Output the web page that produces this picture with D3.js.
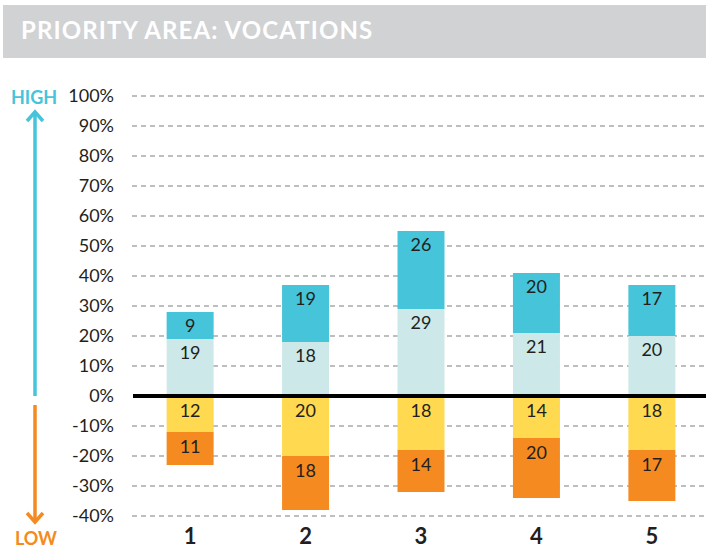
<!DOCTYPE html>
<html>
<head>
<meta charset="utf-8">
<script src="https://cdn.jsdelivr.net/npm/d3@7"></script>
<style>
  body { margin:0; background:#fff; }
  text { font-family: Lato, "Open Sans", sans-serif; }
</style>
</head>
<body>
<svg id="chart" width="706" height="550"></svg>
<script>
// data
var categories=["1","2","3","4","5"];
var highLight=[19,18,29,21,20];   // light blue, bottom of positive stack
var highDark=[9,19,26,20,17];     // dark blue, top of positive stack
var lowLight=[12,20,18,14,18];    // yellow, just under zero
var lowDark=[11,18,14,20,17];     // orange, bottom
var yTicks=[100,90,80,70,60,50,40,30,20,10,0,-10,-20,-30,-40];

var colors={hl:"#cde8e9",hd:"#46c4d9",ll:"#ffd94f",ld:"#f58a20"};

var svg=d3.select("#chart");

// title bar
svg.append("rect")
    .attr("x",3).attr("y",5)
    .attr("width",703).attr("height",53)
    .attr("fill","#d1d2d4");
svg.append("text")
    .attr("x",21).attr("y",39)
    .attr("fill","#fff")
    .style("font-size","24px")
    .style("font-weight","700")
    .style("letter-spacing","1.1px")
    .text("PRIORITY AREA: VOCATIONS");

var y=d3.scaleLinear().domain([-40,100]).range([516,96]);
var x=d3.scaleBand().domain(categories).range([132,710]).paddingInner(0.593).paddingOuter(0.3);

// gridlines
svg.append("g").selectAll("line")
    .data(yTicks.filter(function(d){return d!==0;}))
    .join("line")
    .attr("x1",132).attr("x2",706)
    .attr("y1",function(d){return y(d);})
    .attr("y2",function(d){return y(d);})
    .attr("stroke","#a7a9ac")
    .attr("stroke-width",1.3)
    .attr("stroke-dasharray","5,4");

// tick labels
svg.append("g").selectAll("text")
    .data(yTicks)
    .join("text")
    .attr("x",114)
    .attr("y",function(d){return y(d)+6;})
    .attr("text-anchor","end")
    .attr("fill","#231f20")
    .style("font-size","18px")
    .text(function(d){return d+"%";});

// build stacked segments
var segs=[];
categories.forEach(function(c,i){
    segs.push({c:c,y0:0,y1:highLight[i],v:highLight[i],col:colors.hl,pos:true});
    segs.push({c:c,y0:highLight[i],y1:highLight[i]+highDark[i],v:highDark[i],col:colors.hd,pos:true});
    segs.push({c:c,y0:0,y1:-lowLight[i],v:lowLight[i],col:colors.ll,pos:false});
    segs.push({c:c,y0:-lowLight[i],y1:-lowLight[i]-lowDark[i],v:lowDark[i],col:colors.ld,pos:false});
});

var bars=svg.append("g");
bars.selectAll("rect")
    .data(segs)
    .join("rect")
    .attr("x",function(d){return x(d.c);})
    .attr("width",x.bandwidth())
    .attr("y",function(d){return y(Math.max(d.y0,d.y1));})
    .attr("height",function(d){return Math.abs(y(d.y0)-y(d.y1));})
    .attr("fill",function(d){return d.col;});

bars.selectAll("text")
    .data(segs)
    .join("text")
    .attr("x",function(d){return x(d.c)+x.bandwidth()/2;})
    .attr("y",function(d){return d.pos ? y(d.y1)+20 : y(d.y0)+21;})
    .attr("text-anchor","middle")
    .attr("fill","#231f20")
    .style("font-size","18px")
    .text(function(d){return d.v;});

// zero line
svg.append("line")
    .attr("x1",133).attr("x2",706)
    .attr("y1",y(0)).attr("y2",y(0))
    .attr("stroke","#000")
    .attr("stroke-width",4);

// category labels
svg.append("g").selectAll("text")
    .data(categories)
    .join("text")
    .attr("x",function(d){return x(d)+x.bandwidth()/2;})
    .attr("y",544)
    .attr("text-anchor","middle")
    .attr("fill","#231f20")
    .style("font-size","22px")
    .style("font-weight","700")
    .text(function(d){return d;});

// HIGH / LOW arrows
svg.append("text")
    .attr("x",34).attr("y",104)
    .attr("text-anchor","middle")
    .attr("fill",colors.hd)
    .style("font-size","18px")
    .style("font-weight","700")
    .text("HIGH");
svg.append("line")
    .attr("x1",35).attr("x2",35)
    .attr("y1",113).attr("y2",396)
    .attr("stroke",colors.hd).attr("stroke-width",3.5);
svg.append("path")
    .attr("d","M27,121 L35,112 L43,121")
    .attr("fill","none")
    .attr("stroke",colors.hd).attr("stroke-width",3.5);

svg.append("text")
    .attr("x",36).attr("y",545)
    .attr("text-anchor","middle")
    .attr("fill",colors.ld)
    .style("font-size","18px")
    .style("font-weight","700")
    .text("LOW");
svg.append("line")
    .attr("x1",35).attr("x2",35)
    .attr("y1",405).attr("y2",522)
    .attr("stroke",colors.ld).attr("stroke-width",3.5);
svg.append("path")
    .attr("d","M27,513 L35,522 L43,513")
    .attr("fill","none")
    .attr("stroke",colors.ld).attr("stroke-width",3.5);
</script>
</body>
</html>
